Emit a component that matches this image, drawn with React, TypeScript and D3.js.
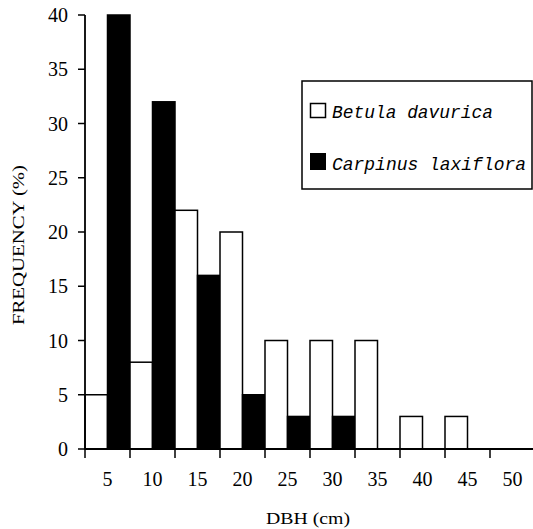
import React from "react";
import * as d3 from "d3";

// DBH classes (cm) and frequency (%) per species
const dbhClasses = ["5", "10", "15", "20", "25", "30", "35", "40", "45", "50"];
const betulaValues = [5, 8, 22, 20, 10, 10, 10, 3, 3, 0];
const carpinusValues = [40, 32, 16, 5, 3, 3, 0, 0, 0, 0];
const yTicks = [0, 5, 10, 15, 20, 25, 30, 35, 40];

const W = 533;
const H = 529;
const serif = "'Liberation Serif', 'DejaVu Serif', serif";
const mono = "'Liberation Mono', 'DejaVu Sans Mono', monospace";

export default function App() {
  const x = d3.scaleBand().domain(dbhClasses).range([85, 535]).paddingInner(0);
  const y = d3.scaleLinear().domain([0, 40]).range([449, 15]);
  const half = x.bandwidth() / 2;

  return (
    <svg
      width={W}
      height={H}
      style={{ position: "absolute", left: 0, top: 0, background: "#fff" }}
    >
      {/* bars */}
      {dbhClasses.map((c, i) => (
        <g key={c}>
          {betulaValues[i] > 0 && (
            <rect
              x={x(c)!}
              y={y(betulaValues[i])}
              width={half}
              height={y(0) - y(betulaValues[i])}
              fill="#fff"
              stroke="#000"
              strokeWidth={1.5}
            />
          )}
          {carpinusValues[i] > 0 && (
            <rect
              x={x(c)! + half}
              y={y(carpinusValues[i])}
              width={half}
              height={y(0) - y(carpinusValues[i])}
              fill="#000"
              stroke="#000"
              strokeWidth={1.5}
            />
          )}
        </g>
      ))}

      {/* y axis */}
      <line x1={85} x2={85} y1={y(40)} y2={y(0)} stroke="#000" strokeWidth={1.8} />
      {yTicks.map((t) => (
        <g key={t}>
          <line x1={78} x2={85} y1={y(t)} y2={y(t)} stroke="#000" strokeWidth={1.5} />
          <text
            x={68}
            y={y(t)}
            dy="0.35em"
            textAnchor="end"
            fontFamily={serif}
            fontSize={20}
          >
            {t}
          </text>
        </g>
      ))}

      {/* x axis */}
      <line x1={85} x2={W} y1={y(0)} y2={y(0)} stroke="#000" strokeWidth={1.8} />
      {dbhClasses.map((c) => (
        <g key={c}>
          <line
            x1={x(c)!}
            x2={x(c)!}
            y1={y(0)}
            y2={y(0) + 9}
            stroke="#000"
            strokeWidth={1.5}
          />
          <text
            x={x(c)! + half}
            y={486}
            textAnchor="middle"
            fontFamily={serif}
            fontSize={20}
          >
            {c}
          </text>
        </g>
      ))}

      {/* axis titles */}
      <text
        x={266}
        y={524}
        fontFamily={serif}
        fontSize={16}
        textLength={84}
        lengthAdjust="spacingAndGlyphs"
      >
        DBH (cm)
      </text>
      <text
        transform="translate(24,325) rotate(-90)"
        fontFamily={serif}
        fontSize={16}
        textLength={160}
        lengthAdjust="spacingAndGlyphs"
      >
        FREQUENCY (%)
      </text>

      {/* legend */}
      <rect x={302} y={81} width={230} height={108} fill="#fff" stroke="#000" strokeWidth={1.5} />
      <rect x={310.5} y={103.5} width={15} height={14} fill="#fff" stroke="#000" strokeWidth={1.5} />
      <text
        x={332}
        y={118}
        fontFamily={mono}
        fontStyle="italic"
        fontSize={18}
        textLength={161}
        lengthAdjust="spacingAndGlyphs"
      >
        Betula davurica
      </text>
      <rect x={310} y={153} width={16} height={17} fill="#000" />
      <text
        x={332}
        y={170}
        fontFamily={mono}
        fontStyle="italic"
        fontSize={18}
        textLength={194}
        lengthAdjust="spacingAndGlyphs"
      >
        Carpinus laxiflora
      </text>
    </svg>
  );
}
